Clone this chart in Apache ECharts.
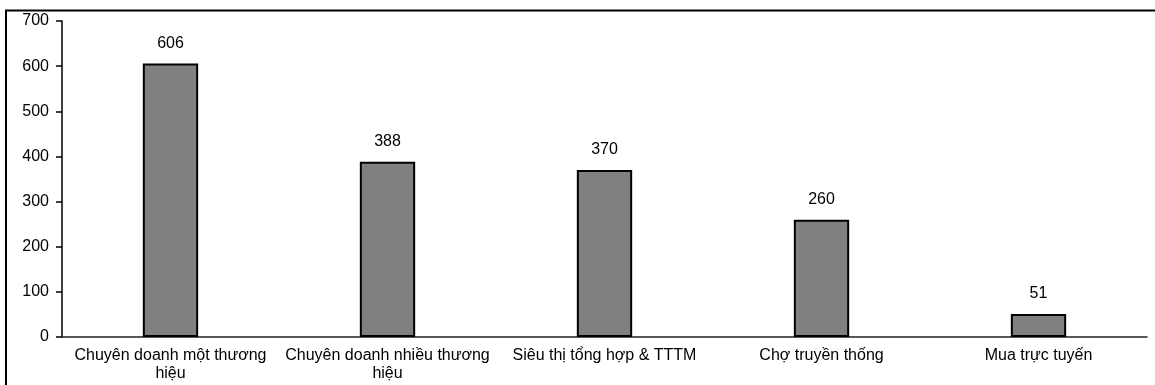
<!DOCTYPE html>
<html>
<head>
<meta charset="utf-8">
<script src="https://cdn.jsdelivr.net/npm/echarts@6/dist/echarts.min.js"></script>
<style>
  html, body { margin: 0; padding: 0; background: #fff; }
  #chart { width: 1155px; height: 385px; }
</style>
</head>
<body>
<div id="chart"></div>
<script>
// Shopping channels and their counts (line breaks as printed under the axis)
const categories = [
  'Chuyên doanh một thương\nhiệu',
  'Chuyên doanh nhiều thương\nhiệu',
  'Siêu thị tổng hợp & TTTM',
  'Chợ truyền thống',
  'Mua trực tuyến'
];
const values = [606, 388, 370, 260, 51];
const yTicks = { min: 0, max: 700, interval: 100 };

const FONT = '"Liberation Sans", Arial, sans-serif';

const chart = echarts.init(document.getElementById('chart'), null, { renderer: 'canvas' });
chart.setOption({
  animation: false,
  backgroundColor: '#ffffff',
  grid: { left: 62, right: 8, top: 21, bottom: 48, containLabel: false },
  graphic: [
    {
      type: 'polyline',
      shape: { points: [[6, 385], [6, 10.5], [1155, 10.5]] },
      style: { stroke: '#000', lineWidth: 2, fill: null }
    }
  ],
  xAxis: {
    type: 'category',
    data: categories,
    axisLine: { lineStyle: { color: '#222', width: 1.5 } },
    axisTick: { show: false },
    axisLabel: {
      color: '#000',
      fontFamily: FONT,
      fontSize: 16,
      interval: 0,
      margin: 10,
      lineHeight: 18
    }
  },
  yAxis: {
    type: 'value',
    min: yTicks.min,
    max: yTicks.max,
    interval: yTicks.interval,
    splitLine: { show: false },
    axisLine: { show: true, lineStyle: { color: '#000', width: 1.5 } },
    axisTick: { show: true, length: 6, lineStyle: { color: '#000', width: 1.5 } },
    axisLabel: { color: '#000', fontFamily: FONT, fontSize: 16, margin: 13 }
  },
  series: [{
    type: 'bar',
    data: values,
    barWidth: '25.5%',
    itemStyle: { color: '#808080', borderColor: '#000', borderWidth: 2 },
    label: {
      show: true,
      position: 'top',
      distance: 12,
      color: '#000',
      fontFamily: FONT,
      fontSize: 16
    }
  }]
});
</script>
</body>
</html>
